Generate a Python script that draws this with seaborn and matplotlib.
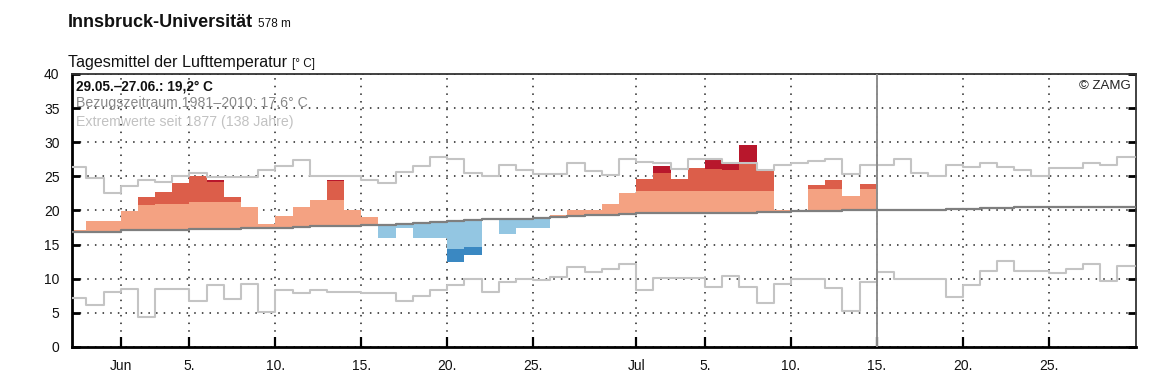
import matplotlib
matplotlib.use('Agg')
import matplotlib.pyplot as plt
import numpy as np
import pandas as pd
import seaborn as sns

nan = np.nan

# daily values, 29 May .. 29 Jul 2015
start_day = '2015-05-29'
n_days = 62

# observed daily mean (no data after 14 Jul)
temp = [17.2, 18.5, 18.5, 19.9, 22.0, 22.7, 24.0, 25.0, 24.5, 22.0,
        20.5, 18.0, 19.2, 20.5, 21.6, 24.5, 20.1, 19.1, 15.9, 17.4,
        15.9, 15.9, 12.4, 13.5, 18.9, 16.6, 17.4, 17.4, 19.3, 20.0,
        20.1, 20.9, 22.6, 24.6, 26.5, 24.6, 26.2, 27.5, 27.0, 29.6,
        25.9, 20.1, 19.9, 23.7, 24.5, 22.1, 23.9] + [nan] * 15

# upper edge of the light (salmon) warm class
warm_lvl1 = [nan, nan, nan, nan, 20.8, 20.9, 21.0, 21.2, 21.2, 21.3,
             nan, nan, nan, nan, nan, 21.6, nan, nan, nan, nan,
             nan, nan, nan, nan, nan, nan, nan, nan, nan, nan,
             nan, nan, nan, 22.8, 22.8, 22.8, 22.8, 22.8, 22.8, 22.8,
             22.8, nan, nan, 23.1, 23.1, nan, 23.2] + [nan] * 15

# upper edge of the medium (red) warm class
warm_lvl2 = [nan] * 8 + [24.2] + [nan] * 6 + [24.3] + [nan] * 18 + \
            [25.5, nan, nan, 26.1, 25.9, 26.8] + [nan] * 22

# lower edge of the light blue cold class
cold_lvl1 = [nan] * 22 + [14.4, 14.7] + [nan] * 38

# climate mean 1981-2010
clim = [16.9, 16.9, 16.9, 17.1, 17.1, 17.1, 17.1, 17.3, 17.3, 17.3,
        17.5, 17.5, 17.5, 17.6, 17.7, 17.7, 17.8, 17.9, 17.9, 18.0,
        18.1, 18.3, 18.5, 18.6, 18.7, 18.7, 18.8, 18.9, 19.1, 19.2,
        19.3, 19.4, 19.5, 19.6, 19.6, 19.6, 19.6, 19.7, 19.7, 19.7,
        19.8, 19.8, 19.9, 19.9, 19.9, 20.0, 20.0, 20.0, 20.0, 20.0,
        20.1, 20.2, 20.2, 20.3, 20.4, 20.5, 20.5, 20.5, 20.5, 20.5,
        20.5, 20.5]

# highest / lowest daily means since 1877
ext_max = [26.3, 24.8, 22.6, 23.6, 24.4, 24.2, 25.0, 25.5, 24.9, 24.9,
           24.9, 26.0, 26.5, 27.4, 25.0, 25.0, 25.0, 24.5, 24.0, 25.6,
           26.5, 27.9, 27.5, 25.5, 25.0, 26.7, 25.9, 25.4, 25.3, 27.0,
           25.8, 25.2, 27.5, 27.1, 26.9, 26.1, 27.6, 27.5, 27.0, 26.9,
           26.0, 26.6, 26.9, 27.2, 27.6, 25.4, 26.6, 26.6, 27.5, 25.5,
           25.0, 26.7, 26.4, 27.0, 26.4, 26.0, 25.0, 26.2, 26.2, 27.0,
           26.6, 27.9]
ext_min = [7.2, 6.1, 8.0, 8.5, 4.4, 8.5, 8.5, 6.8, 9.1, 7.1,
           9.3, 5.1, 8.4, 7.9, 8.4, 8.0, 8.0, 7.9, 7.9, 6.7,
           7.4, 8.4, 9.1, 10.0, 8.0, 9.5, 10.0, 9.8, 10.2, 11.7,
           11.0, 11.4, 12.2, 8.3, 10.1, 10.1, 10.1, 8.8, 10.4, 8.8,
           6.5, 9.2, 9.9, 9.9, 8.6, 5.2, 9.5, 11.0, 10.0, 10.0,
           10.0, 7.3, 9.1, 11.1, 12.6, 11.2, 11.2, 10.8, 11.4, 12.2,
           9.7, 11.9]

tick_dates = ['2015-06-01', '2015-06-05', '2015-06-10', '2015-06-15', '2015-06-20',
              '2015-06-25', '2015-07-01', '2015-07-05', '2015-07-10', '2015-07-15',
              '2015-07-20', '2015-07-25']
tick_labels = ['Jun', '5.', '10.', '15.', '20.', '25.', 'Jul', '5.', '10.', '15.', '20.', '25.']
marker_day = '2015-07-15'

sns.set_theme(style='white')
plt.rcParams['font.family'] = ['Liberation Sans', 'DejaVu Sans']

days = pd.date_range(start_day, periods=n_days)
edges = pd.date_range(start_day, periods=n_days + 1)

t = np.array(temp)
c = np.array(clim)
l1 = np.where(np.isnan(warm_lvl1), np.inf, warm_lvl1)
l2 = np.where(np.isnan(warm_lvl2), np.inf, warm_lvl2)
k1 = np.where(np.isnan(cold_lvl1), -np.inf, cold_lvl1)

# warm classes
salmon_top = np.where(t > c, np.minimum(t, l1), c)
red_top = np.where(t > l1, np.minimum(t, l2), l1)
dark_top = np.where(t > l2, t, l2)
# cold classes
lblue_bot = np.where(t < c, np.maximum(t, k1), c)
dblue_bot = np.where(t < k1, t, k1)

fig = plt.figure(figsize=(11.62, 3.87), dpi=100)
ax = fig.add_axes([0.062, 0.1034, 0.9156, 0.7054])

bar_kw = dict(width=1, align='edge', linewidth=0, zorder=2)
ax.bar(days, salmon_top - c, bottom=c, color='#f4a282', **bar_kw)
ok = np.isfinite(l1)
ax.bar(days[ok], (red_top - l1)[ok], bottom=l1[ok], color='#dc5e4a', **bar_kw)
ok = np.isfinite(l2)
ax.bar(days[ok], (dark_top - l2)[ok], bottom=l2[ok], color='#b8172c', **bar_kw)
ax.bar(days, c - lblue_bot, bottom=lblue_bot, color='#93c6e2', **bar_kw)
ok = np.isfinite(k1)
ax.bar(days[ok], (k1 - dblue_bot)[ok], bottom=dblue_bot[ok], color='#3a88c2', **bar_kw)

steps = pd.DataFrame({'day': edges,
                      'max': ext_max + ext_max[-1:],
                      'min': ext_min + ext_min[-1:],
                      'clim': clim + clim[-1:]})
sns.lineplot(data=steps, x='day', y='max', drawstyle='steps-post', color='#c4c4c4', lw=1.5, ax=ax, zorder=3)
sns.lineplot(data=steps, x='day', y='min', drawstyle='steps-post', color='#c4c4c4', lw=1.5, ax=ax, zorder=3)
sns.lineplot(data=steps, x='day', y='clim', drawstyle='steps-post', color='#7f7f7f', lw=1.6, ax=ax, zorder=4)

ax.axvline(pd.Timestamp(marker_day), color='#8c8c8c', lw=1.4, zorder=3)

ax.set_xlim(pd.Timestamp(start_day) + pd.Timedelta(hours=4), edges[-1] + pd.Timedelta(hours=2))
ax.set_ylim(0, 40)
ax.set_yticks(range(0, 41, 5))
ax.set_xticks(pd.to_datetime(tick_dates))
ax.set_xticklabels(tick_labels)
ax.set_xlabel('')
ax.set_ylabel('')
ax.grid(True, linestyle=(0, (1, 4)), color='#222222', linewidth=1.1, zorder=0)
ax.set_axisbelow(True)

ax.tick_params(axis='y', direction='in', length=6, width=2, color='black', labelsize=10,
               left=True, right=True, pad=9, labelcolor='#111111')
ax.tick_params(axis='x', direction='in', length=7, width=1.6, color='black', labelsize=10,
               bottom=True, pad=9, labelcolor='#111111')
for s in ['left', 'bottom']:
    ax.spines[s].set_linewidth(2)
    ax.spines[s].set_color('black')
for s in ['top', 'right']:
    ax.spines[s].set_linewidth(1.3)
    ax.spines[s].set_color('#333333')

ax.text(0.004, 0.955, '29.05.–27.06.: 19,2° C', transform=ax.transAxes, fontsize=9.8,
        fontweight='bold', color='#111111', va='center')
ax.text(0.004, 0.893, 'Bezugszeitraum 1981–2010: 17,6° C', transform=ax.transAxes, fontsize=10.2,
        color='#8a8a8a', va='center')
ax.text(0.004, 0.825, 'Extremwerte seit 1877 (138 Jahre)', transform=ax.transAxes, fontsize=10.2,
        color='#c2c2c2', va='center')
ax.text(0.995, 0.955, '© ZAMG', transform=ax.transAxes, fontsize=9.5, color='#222222',
        ha='right', va='center')

renderer = fig.canvas.get_renderer()
fig_w = fig.get_window_extent(renderer).width


def chain(x, y, main, small, size_main, size_small, weight):
    t1 = fig.text(x, y, main, fontsize=size_main, fontweight=weight, va='baseline', color='#111111')
    x2 = t1.get_window_extent(renderer).x1 / fig_w + 0.004
    fig.text(x2, y, small, fontsize=size_small, va='baseline', color='#111111')


chain(0.0585, 0.93, 'Innsbruck-Universität', '578 m', 13, 8.5, 'bold')
chain(0.0585, 0.827, 'Tagesmittel der Lufttemperatur', '[° C]', 11.6, 8.5, 'normal')

fig.savefig('out.png', dpi=100)
